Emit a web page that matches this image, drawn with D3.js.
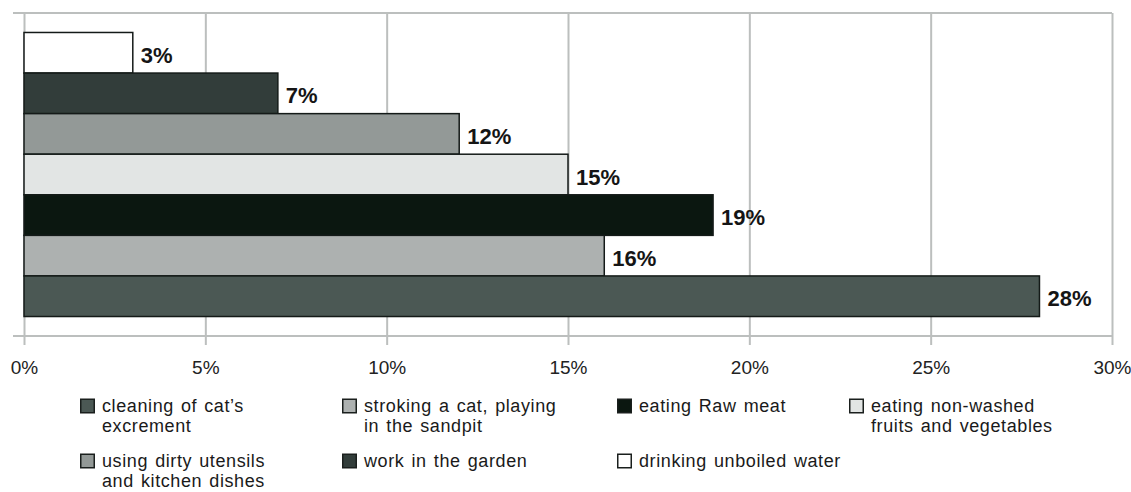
<!DOCTYPE html>
<html>
<head>
<meta charset="utf-8">
<script src="https://cdn.jsdelivr.net/npm/d3@7"></script>
<style>
  html, body { margin: 0; padding: 0; background: #fff; }
  svg { display: block; font-family: "Liberation Sans", Arial, Helvetica, sans-serif; }
</style>
</head>
<body>
<svg id="chart" width="1131" height="492"></svg>
<script>
// Bars, drawn top to bottom
const categories = [
  "drinking unboiled water",
  "work in the garden",
  "using dirty utensils and kitchen dishes",
  "eating non-washed fruits and vegetables",
  "eating Raw meat",
  "stroking a cat, playing in the sandpit",
  "cleaning of cat\u2019s excrement"
];
const values = [3, 7, 12, 15, 19, 16, 28];
const colors = ["#ffffff", "#323d3a", "#939997", "#e2e5e4", "#0b1710", "#adb1b0", "#4b5854"];

// Legend entries in reading order, with their wrapped lines
const legendItems = [
  "cleaning of cat\u2019s excrement",
  "stroking a cat, playing in the sandpit",
  "eating Raw meat",
  "eating non-washed fruits and vegetables",
  "using dirty utensils and kitchen dishes",
  "work in the garden",
  "drinking unboiled water"
];
const legendLines = [
  ["cleaning of cat\u2019s", "excrement"],
  ["stroking a cat, playing", "in the sandpit"],
  ["eating Raw meat"],
  ["eating non-washed", "fruits and vegetables"],
  ["using dirty utensils", "and kitchen dishes"],
  ["work in the garden"],
  ["drinking unboiled water"]
];

const xTicks = [0, 5, 10, 15, 20, 25, 30];

const svg = d3.select("#chart");
const plot = { left: 24, right: 1112, top: 13, bottom: 336 };
const gridColor = "#bcbfbe";

const x = d3.scaleLinear().domain([0, 30]).range([plot.left, plot.right]);
const y = d3.scaleBand().domain(categories).range([plot.top, plot.bottom])
  .paddingInner(0).paddingOuter(0.48);

// top border
svg.append("line")
  .attr("x1", 13).attr("x2", plot.right).attr("y1", plot.top).attr("y2", plot.top)
  .attr("stroke", gridColor).attr("stroke-width", 2);

// vertical gridlines, extended below the axis as tick marks
const xAxis = d3.axisBottom(x).tickValues(xTicks).tickFormat(d => d + "%")
  .tickSize(-(plot.bottom - plot.top)).tickPadding(0);
const gx = svg.append("g").attr("transform", `translate(0,${plot.bottom})`).call(xAxis);
gx.select(".domain").remove();
gx.selectAll(".tick line")
  .attr("y1", 9)
  .attr("stroke", gridColor).attr("stroke-width", 2);
gx.selectAll(".tick text")
  .attr("y", 38).attr("dy", 0)
  .attr("fill", "#222")
  .style("font-size", "19px")
  .style("font-family", "'Liberation Sans', Arial, sans-serif");

// bottom axis line
svg.append("line")
  .attr("x1", 13).attr("x2", plot.right).attr("y1", plot.bottom).attr("y2", plot.bottom)
  .attr("stroke", gridColor).attr("stroke-width", 2);

// bars
svg.append("g").selectAll("rect")
  .data(categories)
  .join("rect")
  .attr("x", x(0))
  .attr("y", (d) => y(d))
  .attr("width", (d, i) => x(values[i]) - x(0))
  .attr("height", y.bandwidth())
  .attr("fill", (d, i) => colors[i])
  .attr("stroke", "#141a18")
  .attr("stroke-width", 1.5);

// value labels
svg.append("g").selectAll("text")
  .data(categories)
  .join("text")
  .attr("x", (d, i) => x(values[i]) + 8)
  .attr("y", (d) => y(d) + y.bandwidth() / 2 + 10)
  .attr("fill", "#151515")
  .style("font-size", "22px")
  .style("font-weight", "bold")
  .text((d, i) => values[i] + "%");

// legend
const legendCols = [80, 342, 617, 849];
const legendRows = [412, 467];
const legend = svg.append("g");
legendItems.forEach((name, k) => {
  const i = categories.indexOf(name);
  const cx = legendCols[k % 4];
  const by = legendRows[Math.floor(k / 4)];
  const g = legend.append("g");
  g.append("rect")
    .attr("x", cx + 0.75).attr("y", by - 12.75)
    .attr("width", 13.5).attr("height", 13.5)
    .attr("fill", colors[i])
    .attr("stroke", "#1a1f1d").attr("stroke-width", 1.5);
  const t = g.append("text")
    .attr("x", cx + 22).attr("y", by)
    .attr("fill", "#1a1a1a")
    .style("font-size", "18px")
    .style("letter-spacing", "0.6px")
    .style("word-spacing", "1.5px");
  legendLines[k].forEach((line, j) => {
    t.append("tspan").attr("x", cx + 22).attr("y", by + j * 20).text(line);
  });
});
</script>
</body>
</html>
